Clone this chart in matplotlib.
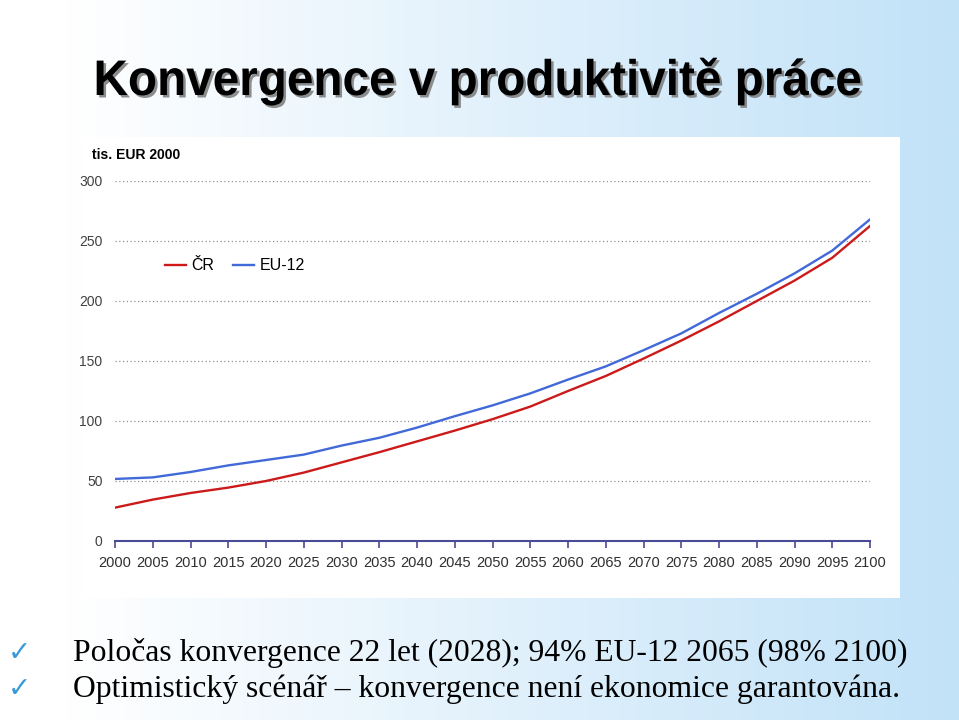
import matplotlib
matplotlib.use("Agg")
import matplotlib.pyplot as plt
import numpy as np
from matplotlib.patches import Rectangle
import matplotlib.patheffects as pe
from matplotlib.transforms import Affine2D

years = [2000, 2005, 2010, 2015, 2020, 2025, 2030, 2035, 2040, 2045, 2050,
         2055, 2060, 2065, 2070, 2075, 2080, 2085, 2090, 2095, 2100]
cr = [27.8, 34.5, 40, 44.5, 50, 57, 65.5, 74, 83, 92, 101.5,
      112, 125, 137.5, 152, 167, 183, 200, 217, 236, 262.5]
eu12 = [51.7, 53, 57.5, 63, 67.5, 72, 79.5, 86, 94.5, 104, 113,
        123, 134.5, 145.5, 159, 173, 190, 206, 223, 242, 268]
yticks = [0, 50, 100, 150, 200, 250, 300]
title = "Konvergence v produktivitě práce"
unit_label = "tis. EUR 2000"
bullets = ["Poločas konvergence 22 let (2028); 94% EU-12 2065 (98% 2100)",
           "Optimistický scénář – konvergence není ekonomice garantována."]

W, H = 959, 720
fig = plt.figure(figsize=(W / 100, H / 100), dpi=100)


class StretchShadow(pe.AbstractPathEffect):
    """Horizontally condense glyph outlines about cx and draw a drop shadow."""
    def __init__(self, sx, cx, shadow=True):
        super().__init__()
        self.sx, self.cx, self.shadow = sx, cx, shadow

    def draw_path(self, renderer, gc, tpath, affine, rgbFace=None):
        st = Affine2D().translate(-self.cx, 0).scale(self.sx, 1).translate(self.cx, 0)
        if self.shadow:
            gc0 = renderer.new_gc()
            gc0.copy_properties(gc)
            gc0.set_foreground("#7a7a7a")
            gc0.set_alpha(0.85)
            gc0.set_linewidth(0)
            renderer.draw_path(gc0, tpath, affine + st + Affine2D().translate(2.5, -2.5),
                               (0.48, 0.48, 0.48, 0.85))
            gc0.restore()
        renderer.draw_path(gc, tpath, affine + st, rgbFace)


# background gradient
bg = fig.add_axes([0, 0, 1, 1], zorder=-10)
xs = np.linspace(0, 1, 512)
t = np.clip((xs - 0.07) / 0.93, 0, 1)
c0 = np.array([1.0, 1.0, 1.0])
c1 = np.array([0xc2, 0xe2, 0xf8]) / 255
grad = (c0[None, :] * (1 - t[:, None]) + c1[None, :] * t[:, None])[None, :, :]
bg.imshow(grad, aspect="auto", extent=[0, 1, 0, 1])
bg.set_axis_off()

# white panel
fig.patches.append(Rectangle((82 / W, 1 - 598 / H), 818 / W, 461 / H,
                             transform=fig.transFigure, facecolor="white",
                             edgecolor="none", zorder=-5))

# title (real text, condensed via path effect)
ttl = fig.text(478 / W, 1 - 81 / H, title, ha="center", va="center",
               fontsize=36, fontweight="bold", family="Liberation Sans", color="black")
fig.canvas.draw()
bb = ttl.get_window_extent()
sx = 769.0 / bb.width
ttl.set_path_effects([StretchShadow(sx, 478.0)])

ax = fig.add_axes([115 / W, 1 - 541 / H, 755 / W, 360 / H])
ax.set_facecolor("none")
ax.plot(years, cr, color="#cc1a1a", lw=1.7, label="ČR")
ax.plot(years, eu12, color="#4169d8", lw=1.7, label="EU-12")
ax.set_xlim(2000, 2100)
ax.set_ylim(0, 300)
ax.set_xticks(years)
ax.set_yticks(yticks)
for yv in yticks[1:]:
    ax.axhline(yv, color="#909090", lw=0.9, ls=(0, (1, 2)), zorder=0)
for s in ["top", "right", "left"]:
    ax.spines[s].set_visible(False)
ax.spines["bottom"].set_color("#4a4a96")
ax.spines["bottom"].set_linewidth(1.5)
ax.tick_params(axis="x", direction="out", length=5, width=1.2, color="#4a4a96",
               labelsize=10.5, labelcolor="#303030", pad=5.5)
ax.tick_params(axis="y", length=0, labelsize=10, labelcolor="#404040", pad=9)
for lab in ax.get_xticklabels() + ax.get_yticklabels():
    lab.set_family("Liberation Sans")

fig.text(92 / W, 1 - 155 / H, unit_label, ha="left", va="center",
         fontsize=10, fontweight="bold", family="Liberation Sans")

leg = ax.legend(loc="center left", bbox_to_anchor=(0.066, 1 - (266 - 181) / 360), ncol=2,
                frameon=False, prop={"family": "Liberation Sans", "size": 11.5},
                handlelength=1.3, handletextpad=0.35, columnspacing=1.2,
                borderaxespad=0, borderpad=0)

# bullets
for i, txt in enumerate(bullets):
    yy = 1 - (653 + 36 * i) / H
    fig.text(19 / W, yy, "✓", ha="center", va="center", fontsize=20,
             color="#3a9ad8", family="DejaVu Sans")
    fig.text(73 / W, yy, txt, ha="left", va="center", fontsize=22.8,
             family="Liberation Serif", color="black")

fig.savefig("out.png", dpi=100)
